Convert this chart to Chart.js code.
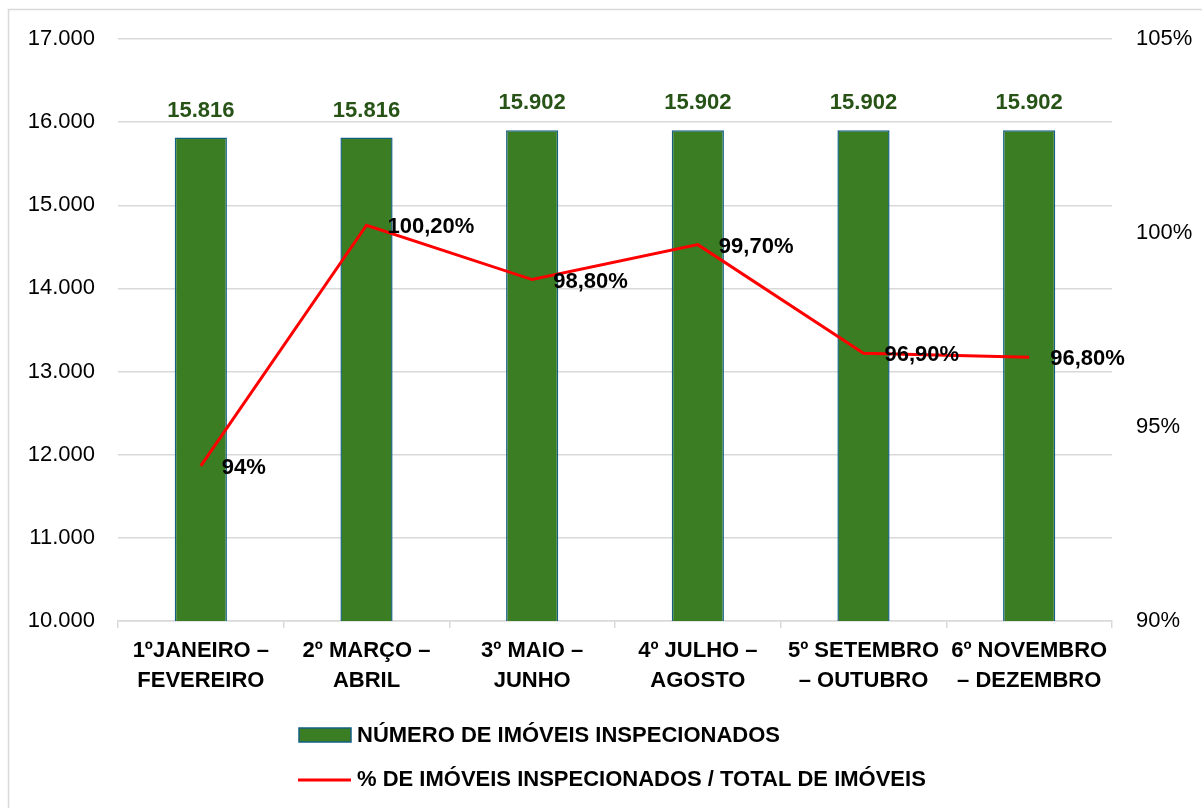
<!DOCTYPE html>
<html>
<head>
<meta charset="utf-8">
<script src="https://cdn.jsdelivr.net/npm/chart.js@4.4.1/dist/chart.umd.min.js"></script>
<style>
html,body{margin:0;padding:0;background:#fff;}
#wrap{width:1202px;height:808px;position:relative;}
</style>
</head>
<body>
<div id="wrap"><canvas id="c" width="1202" height="808"></canvas></div>
<script>
const categories = [
  ['1ºJANEIRO –', 'FEVEREIRO'],
  ['2º MARÇO –', 'ABRIL'],
  ['3º MAIO –', 'JUNHO'],
  ['4º JULHO –', 'AGOSTO'],
  ['5º SETEMBRO', '– OUTUBRO'],
  ['6º NOVEMBRO', '– DEZEMBRO']
];
const inspecionados = [15816, 15816, 15902, 15902, 15902, 15902];
const percentual = [94, 100.2, 98.8, 99.7, 96.9, 96.8];
const barLabel = 'NÚMERO DE IMÓVEIS INSPECIONADOS';
const lineLabel = '% DE IMÓVEIS INSPECIONADOS / TOTAL DE IMÓVEIS';

const FONT = "'Liberation Sans', Arial, sans-serif";
const FS = 22;

function fmtThousands(v){
  return String(Math.round(v)).replace(/\B(?=(\d{3})+(?!\d))/g, '.');
}
function fmtPct(v){
  return (Number.isInteger(v) ? String(v) : v.toFixed(2).replace('.', ',')) + '%';
}

const frame = {
  id: 'frame',
  beforeDraw(chart){
    const ctx = chart.ctx;
    ctx.save();
    ctx.fillStyle = '#fff';
    ctx.fillRect(0,0,chart.width,chart.height);
    ctx.strokeStyle = '#d9d9d9';
    ctx.lineWidth = 1.5;
    ctx.beginPath();
    ctx.moveTo(8.5, chart.height + 5);
    ctx.lineTo(8.5, 9.5);
    ctx.lineTo(chart.width + 5, 9.5);
    ctx.stroke();
    ctx.restore();
  }
};

const labelsPlugin = {
  id: 'valueLabels',
  afterDatasetsDraw(chart){
    const ctx = chart.ctx;
    ctx.save();
    const bm = chart.getDatasetMeta(0);
    ctx.font = "bold " + FS + "px " + FONT;
    ctx.fillStyle = '#275317';
    ctx.textAlign = 'center';
    ctx.textBaseline = 'middle';
    bm.data.forEach((el, i) => {
      ctx.fillText(fmtThousands(chart.data.datasets[0].data[i]), el.x, el.y - 27);
    });
    const lm = chart.getDatasetMeta(1);
    ctx.fillStyle = '#000';
    ctx.textAlign = 'left';
    lm.data.forEach((el, i) => {
      ctx.fillText(fmtPct(chart.data.datasets[1].data[i]), el.x + 21, el.y + 2);
    });
    ctx.restore();
  }
};

const legendPlugin = {
  id: 'customLegend',
  afterDraw(chart){
    const ctx = chart.ctx;
    const ds = chart.data.datasets;
    ctx.save();
    ctx.font = "bold " + FS + "px " + FONT;
    ctx.textAlign = 'left';
    ctx.textBaseline = 'middle';
    let y = 735;
    ctx.fillStyle = ds[0].backgroundColor;
    ctx.fillRect(299, y - 7, 52, 14);
    ctx.strokeStyle = ds[0].borderColor;
    ctx.lineWidth = 1.5;
    ctx.strokeRect(299, y - 7, 52, 14);
    ctx.fillStyle = '#000';
    ctx.fillText(ds[0].label, 357, y + 1);
    y = 780;
    ctx.strokeStyle = ds[1].borderColor;
    ctx.lineWidth = 3;
    ctx.beginPath();
    ctx.moveTo(298, y);
    ctx.lineTo(351, y);
    ctx.stroke();
    ctx.fillStyle = '#000';
    ctx.fillText(ds[1].label, 357, y);
    ctx.restore();
  }
};

new Chart(document.getElementById('c'), {
  data: {
    labels: categories,
    datasets: [
      {
        type: 'bar',
        label: barLabel,
        data: inspecionados,
        backgroundColor: '#3A7D22',
        borderColor: '#156082',
        borderWidth: 1.5,
        yAxisID: 'y',
        categoryPercentage: 1,
        barPercentage: 0.315,
        order: 2
      },
      {
        type: 'line',
        label: lineLabel,
        data: percentual,
        borderColor: '#FF0000',
        backgroundColor: '#FF0000',
        borderWidth: 3,
        pointRadius: 0,
        tension: 0,
        yAxisID: 'y1',
        order: 1
      }
    ]
  },
  options: {
    responsive: false,
    animation: false,
    devicePixelRatio: 1,
    layout: { padding: { top: 39, left: 0, right: 0, bottom: 0 } },
    plugins: {
      legend: { display: false },
      tooltip: { enabled: false }
    },
    scales: {
      x: {
        offset: true,
        grid: { display: true, drawOnChartArea: false, drawTicks: true, tickLength: 7, color: '#d9d9d9', lineWidth: 1.5 },
        border: { display: true, color: '#d9d9d9', width: 1.5 },
        ticks: { color: '#000', font: { family: FONT, size: FS, weight: 'bold', lineHeight: 1.36 }, padding: 8, maxRotation: 0, autoSkip: false },
        afterFit(s){ s.height = 808 - 621; }
      },
      y: {
        position: 'left',
        min: 10000, max: 17000,
        ticks: { stepSize: 1000, color: '#000', font: { family: FONT, size: FS }, padding: 23, callback: v => fmtThousands(v) },
        grid: { color: '#d9d9d9', lineWidth: 1.5, drawTicks: false },
        border: { display: false },
        afterFit(s){ s.width = 118; }
      },
      y1: {
        position: 'right',
        min: 90, max: 105,
        ticks: { stepSize: 5, color: '#000', font: { family: FONT, size: FS }, padding: 24, callback: v => v + '%' },
        grid: { display: false, drawTicks: false },
        border: { display: false },
        afterFit(s){ s.width = 1202 - 1112; }
      }
    }
  },
  plugins: [frame, labelsPlugin, legendPlugin]
});
</script>
</body>
</html>
